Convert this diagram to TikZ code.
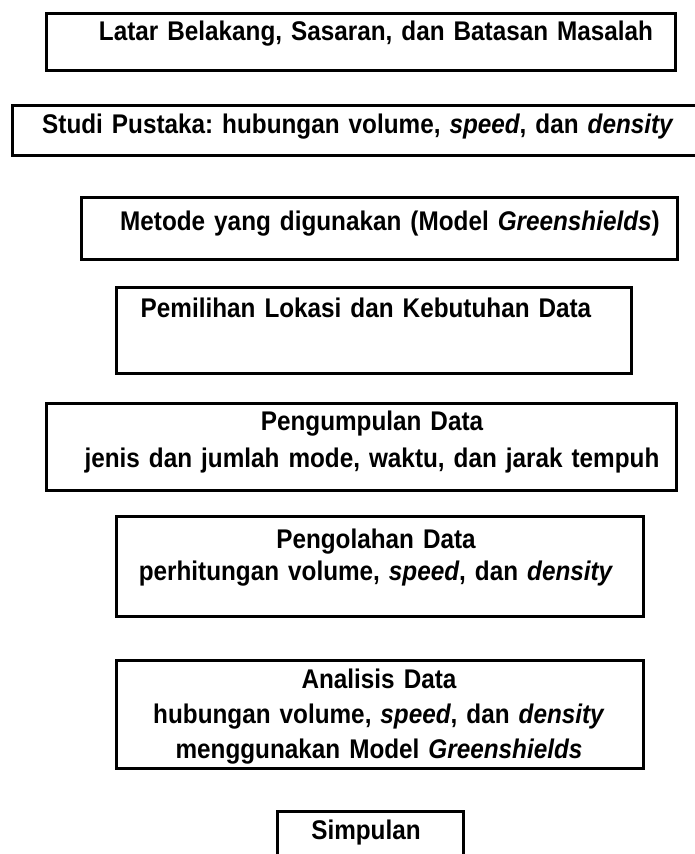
\documentclass[tikz,border=0pt]{standalone}
\usepackage{fontspec}
\setmainfont{Liberation Sans}[FakeStretch=0.9]
\frenchspacing
\begin{document}
\begin{tikzpicture}[x=1pt,y=-1pt,
  box/.style={draw=black, line width=3pt, anchor=north west, inner sep=0pt},
  lbl/.style={anchor=base, inner sep=0pt, text width=720pt, align=center,
    font=\fontsize{27}{35}\selectfont\bfseries},
  sp/.style={font=\fontsize{27}{#1}\selectfont\bfseries}]
\useasboundingbox (0,0) rectangle (695,854);

% frames of the eight stages
\node[box, minimum width=629pt, minimum height=57pt] (b1) at (45,12) {};
\node[box, minimum width=700pt, minimum height=50pt] (b2) at (11,104) {};
\node[box, minimum width=596pt, minimum height=62pt] (b3) at (80,196) {};
\node[box, minimum width=515pt, minimum height=86pt] (b4) at (115,286) {};
\node[box, minimum width=630pt, minimum height=87pt] (b5) at (45,402) {};
\node[box, minimum width=527pt, minimum height=100pt] (b6) at (115,515) {};
\node[box, minimum width=527pt, minimum height=108pt] (b7) at (115,659) {};
\node[box, minimum width=186pt, minimum height=70pt] (b8) at (276,810) {};

% stage texts
\node[lbl] (t1) at (376,40) {Latar Belakang, Sasaran, dan Batasan Masalah};
\node[lbl] (t2) at (358,133) {Studi Pustaka: hubungan volume, \textit{speed}, dan \textit{density}};
\node[lbl] (t3) at (390,230) {Metode yang digunakan (Model \textit{Greenshields})};
\node[lbl] (t4) at (366,317) {Pemilihan Lokasi dan Kebutuhan Data};
\node[lbl, sp=37] (t5) at (372,430) {Pengumpulan Data\\jenis dan jumlah mode, waktu, dan jarak tempuh};
\node[lbl, sp=32] (t6) at (376,548) {Pengolahan Data\\perhitungan volume, \textit{speed}, dan \textit{density}};
\node[lbl, sp=35] (t7) at (379,688) {Analisis Data\\hubungan volume, \textit{speed}, dan \textit{density}\\menggunakan Model \textit{Greenshields}};
\node[lbl] (t8) at (366,839) {Simpulan};
\end{tikzpicture}
\end{document}
